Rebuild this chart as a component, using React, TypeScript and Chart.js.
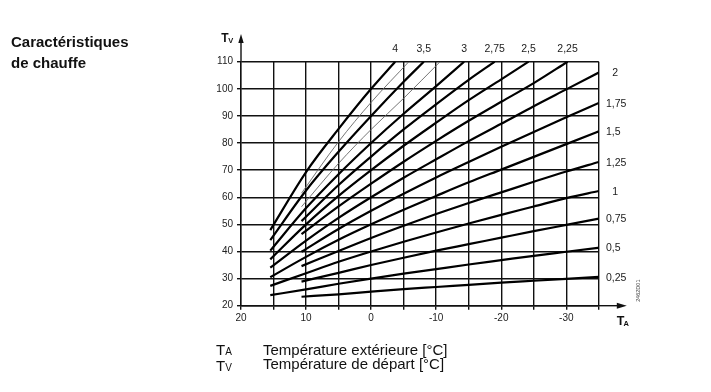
import React, { useEffect, useRef } from 'react';
import { Chart, registerables } from 'chart.js';

Chart.register(...registerables);

const W = 711;
const H = 392;
const FONT = '"Liberation Sans", Arial, Helvetica, sans-serif';

// Axis ranges / ticks
const TA_MIN = -35;
const TA_MAX = 20;
const TA_STEP = 5;
const TA_LABELS = [20, 10, 0, -10, -20, -30];
const TV_MIN = 20;
const TV_MAX = 110;
const TV_STEP = 10;

type Pt = [number, number]; // [TA, TV]

// Heating curves
const curve4: Pt[] = [[15.5, 47.9], [10, 69.3], [5, 85.2], [0, 100], [-3.7, 110]];
const curve375: Pt[] = [[10.7, 61.5], [5, 80.5], [0, 95], [-5.8, 110]];
const curve35: Pt[] = [[15.5, 44.2], [10, 62.5], [5, 76.8], [0, 90], [-5, 102.6], [-8.1, 110]];
const curve325: Pt[] = [[10.7, 56.5], [5, 72.5], [0, 85], [-5, 96.5], [-10.6, 110]];
const curve3: Pt[] = [[15.5, 40.3], [10, 56], [5, 68.5], [0, 80], [-5, 90.8], [-10, 101], [-14.3, 110]];
const curve275: Pt[] = [[10.7, 51.2], [5, 64.5], [0, 75], [-5, 85], [-10, 94.3], [-15, 103.3], [-19, 110]];
const curve25: Pt[] = [[15.5, 37.1], [10, 50], [5, 60.5], [0, 70], [-5, 79], [-10, 87.5], [-15, 95.8], [-20, 103.5], [-24.2, 110]];
const curve225: Pt[] = [[10.7, 46.4], [5, 56.6], [0, 65], [-5, 73.1], [-10, 80.8], [-15, 88.2], [-20, 95.2], [-25, 102.1], [-30.2, 110]];
const curve2: Pt[] = [[15.5, 34], [10, 44], [5, 52.4], [0, 60], [-5, 67.2], [-10, 74], [-15, 80.7], [-20, 87.1], [-25, 93.6], [-30, 99.8], [-35, 106]];
const curve175: Pt[] = [[10.7, 39.9], [5, 48.3], [0, 55], [-5, 61.3], [-10, 67.3], [-15, 73], [-20, 78.6], [-25, 84.1], [-30, 89.5], [-35, 94.8]];
const curve15: Pt[] = [[15.5, 30.5], [10, 38], [5, 44.3], [0, 50], [-5, 55.4], [-10, 60.5], [-15, 65.5], [-20, 70.2], [-25, 74.9], [-30, 79.6], [-35, 84.3]];
const curve125: Pt[] = [[10.7, 34.6], [5, 40.2], [0, 45], [-5, 49.5], [-10, 53.8], [-15, 57.9], [-20, 61.8], [-25, 65.7], [-30, 69.5], [-35, 73]];
const curve1: Pt[] = [[15.5, 27.3], [10, 32], [5, 36.2], [0, 40], [-5, 43.6], [-10, 47], [-15, 50.3], [-20, 53.5], [-25, 56.6], [-30, 59.7], [-35, 62.3]];
const curve075: Pt[] = [[10.7, 28.9], [5, 32.1], [0, 35], [-5, 37.7], [-10, 40.3], [-15, 42.7], [-20, 45.1], [-25, 47.5], [-30, 49.8], [-35, 52.1]];
const curve05: Pt[] = [[15.5, 23.9], [10, 26], [5, 28.1], [0, 30], [-5, 31.8], [-10, 33.5], [-15, 35.2], [-20, 36.8], [-25, 38.4], [-30, 39.9], [-35, 41.4]];
const curve025: Pt[] = [[10.7, 23.3], [5, 24.2], [0, 25.2], [-5, 26.1], [-10, 26.9], [-15, 27.7], [-20, 28.5], [-25, 29.2], [-30, 29.9], [-35, 30.6]];

const CURVE_LABELS = ['4', '', '3,5', '', '3', '2,75', '2,5', '2,25', '2', '1,75', '1,5', '1,25', '1', '0,75', '0,5', '0,25'];
const CURVE_DATA = [curve4, curve375, curve35, curve325, curve3, curve275, curve25, curve225, curve2, curve175, curve15, curve125, curve1, curve075, curve05, curve025];

const decoPlugin = {
  id: 'deco',
  afterDraw(chart: any) {
    const ctx = chart.ctx as CanvasRenderingContext2D;
    const xs = chart.scales.x;
    const ys = chart.scales.y;
    const { left, right, top, bottom } = chart.chartArea;
    ctx.save();
    ctx.strokeStyle = '#111';
    ctx.fillStyle = '#111';
    ctx.lineWidth = 1.4;

    // x axis arrow
    const xTip = right + 28;
    ctx.beginPath();
    ctx.moveTo(right, bottom);
    ctx.lineTo(xTip - 6, bottom);
    ctx.stroke();
    ctx.beginPath();
    ctx.moveTo(xTip, bottom);
    ctx.lineTo(xTip - 10, bottom - 3);
    ctx.lineTo(xTip - 10, bottom + 3);
    ctx.closePath();
    ctx.fill();

    // y axis arrow
    const yTip = top - 27.7;
    ctx.beginPath();
    ctx.moveTo(left, top);
    ctx.lineTo(left, yTip + 6);
    ctx.stroke();
    ctx.beginPath();
    ctx.moveTo(left, yTip);
    ctx.lineTo(left - 2.7, yTip + 9);
    ctx.lineTo(left + 2.7, yTip + 9);
    ctx.closePath();
    ctx.fill();

    // Axis names
    ctx.textBaseline = 'alphabetic';
    ctx.textAlign = 'left';
    ctx.font = `bold 12px ${FONT}`;
    ctx.fillText('T', left - 19.8, top - 20);
    ctx.font = `bold 7.5px ${FONT}`;
    ctx.fillText('V', left - 12.8, top - 18.3);
    ctx.font = `bold 12.5px ${FONT}`;
    ctx.fillText('T', right + 18, bottom + 19.3);
    ctx.font = `bold 7.5px ${FONT}`;
    ctx.fillText('A', right + 24.6, bottom + 20.5);

    // Curve labels
    ctx.fillStyle = '#1a1a1a';
    ctx.font = `10.5px ${FONT}`;
    CURVE_DATA.forEach((pts, i) => {
      const lab = CURVE_LABELS[i];
      if (!lab) return;
      const [ta, tv] = pts[pts.length - 1];
      if (tv >= TV_MAX - 0.01) {
        ctx.textAlign = 'center';
        ctx.textBaseline = 'alphabetic';
        ctx.fillText(lab, xs.getPixelForValue(ta), top - 10.2);
      } else {
        ctx.textAlign = 'left';
        ctx.textBaseline = 'middle';
        const x = lab.length === 1 ? right + 13.5 : right + 7.2;
        ctx.fillText(lab, x, ys.getPixelForValue(tv) + 0.8);
      }
    });

    // document code
    ctx.save();
    ctx.translate(right + 40, bottom - 15);
    ctx.rotate(-Math.PI / 2);
    ctx.font = `5.5px ${FONT}`;
    ctx.fillStyle = '#444';
    ctx.textAlign = 'center';
    ctx.textBaseline = 'middle';
    ctx.fillText('2462D01', 0, 0);
    ctx.restore();

    ctx.restore();
  },
};

export default function App() {
  const canvasRef = useRef<HTMLCanvasElement | null>(null);

  useEffect(() => {
    const canvas = canvasRef.current;
    if (!canvas) return;
    const datasets = CURVE_DATA.map((pts, i) => {
      const thin = CURVE_LABELS[i] === '';
      return {
        label: CURVE_LABELS[i] || `thin${i}`,
        data: pts.map(([x, y]) => ({ x, y })),
        showLine: true,
        borderColor: thin ? '#666' : '#000',
        borderWidth: thin ? 0.9 : 2.2,
        pointRadius: 0,
        cubicInterpolationMode: 'monotone' as const,
        fill: false,
      };
    });
    const chart = new Chart(canvas, {
      type: 'scatter',
      data: { datasets },
      options: {
        animation: false,
        responsive: false,
        maintainAspectRatio: false,
        devicePixelRatio: 1,
        layout: { padding: { left: 201, right: 112.2, top: 61.7, bottom: 56.3 } },
        plugins: { legend: { display: false }, tooltip: { enabled: false } },
        scales: {
          x: {
            type: 'linear',
            reverse: true,
            min: TA_MIN,
            max: TA_MAX,
            afterFit: (s: any) => { s.height = 30; },
            ticks: {
              stepSize: TA_STEP,
              autoSkip: false,
              maxRotation: 0,
              padding: 3,
              color: '#222',
              font: { family: FONT, size: 10 },
              callback: (v: any) => (TA_LABELS.includes(Number(v)) ? String(v) : ''),
            },
            grid: { color: '#111', lineWidth: 1.4, tickLength: 4, tickColor: '#111', drawTicks: true },
            border: { display: true, color: '#111', width: 1.4 },
          },
          y: {
            type: 'linear',
            min: TV_MIN,
            max: TV_MAX,
            afterFit: (s: any) => { s.width = 40; },
            ticks: {
              stepSize: TV_STEP,
              autoSkip: false,
              padding: 4,
              color: '#222',
              font: { family: FONT, size: 10 },
              callback: (v: any) => String(v),
            },
            grid: { color: '#111', lineWidth: 1.4, tickLength: 4, tickColor: '#111', drawTicks: true },
            border: { display: true, color: '#111', width: 1.4 },
          },
        },
      },
      plugins: [decoPlugin],
    });
    return () => chart.destroy();
  }, []);

  const legendStyle: React.CSSProperties = {
    position: 'absolute',
    fontFamily: FONT,
    fontSize: 15,
    lineHeight: '14.3px',
    color: '#111',
    whiteSpace: 'nowrap',
  };

  return (
    <div style={{ position: 'absolute', left: 0, top: 0, width: W, height: H, background: '#fff', overflow: 'hidden' }}>
      <canvas ref={canvasRef} width={W} height={H} style={{ position: 'absolute', left: 0, top: 0, width: W, height: H }} />
      <div
        style={{
          position: 'absolute',
          left: 11,
          top: 31,
          fontFamily: FONT,
          fontWeight: 'bold',
          fontSize: 15,
          lineHeight: '21px',
          color: '#111',
          whiteSpace: 'nowrap',
        }}
      >
        Caractéristiques
        <br />
        de chauffe
      </div>
      <div style={{ ...legendStyle, left: 216, top: 342.6 }}>
        T<span style={{ fontSize: 10 }}>A</span>
        <br />
        T<span style={{ fontSize: 10 }}>V</span>
      </div>
      <div style={{ ...legendStyle, left: 263, top: 342.6 }}>
        Température extérieure [°C]
        <br />
        Température de départ [°C]
      </div>
    </div>
  );
}
